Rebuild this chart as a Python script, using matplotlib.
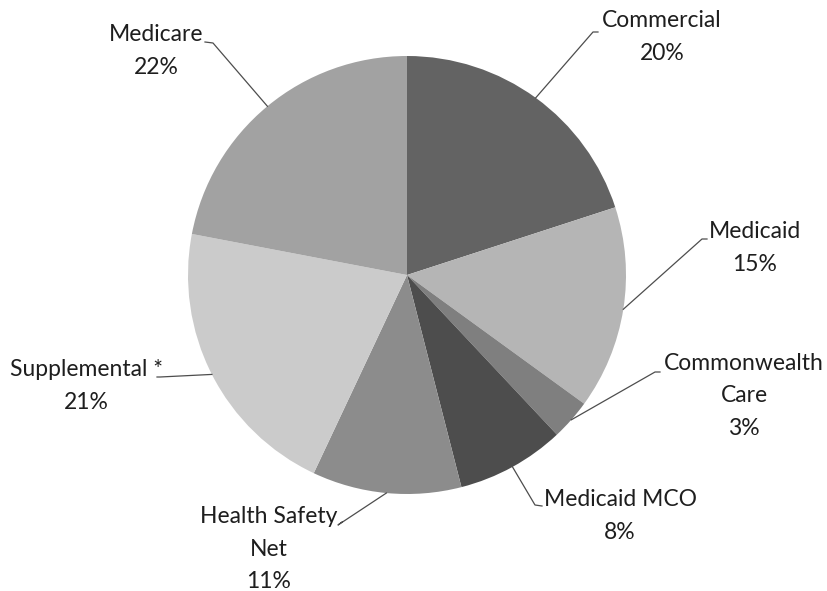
import numpy as np
import matplotlib
matplotlib.use("Agg")
import matplotlib.pyplot as plt

plt.rcParams["font.family"] = ["Lato", "DejaVu Sans"]

labels = ["Commercial", "Medicaid", "Commonwealth\nCare", "Medicaid MCO",
          "Health Safety\nNet", "Supplemental *", "Medicare"]
shares = [20, 15, 3, 8, 11, 21, 22]
colors = ["#636363", "#b5b5b5", "#7f7f7f", "#4d4d4d", "#8c8c8c", "#cbcbcb", "#a2a2a2"]

# label block centres and leader elbows/ends, pixels from top-left
text_pos = [(662, 37), (755, 248), (744, 396), (620, 516), (269, 549), (86, 386), (156, 51)]
elbows = [(593, 32), (702, 239), (655, 372), (535, 505), (338, 525), (160, 377), (213, 43)]
ends = [(598, 32), (707, 239), (660, 372), (542, 506), (342, 522), (157, 377), (205, 42)]

W, H = 827, 591
fig = plt.figure(figsize=(W / 100, H / 100), dpi=100)
ax = fig.add_axes([0, 0, 1, 1])

cx, cy, r = 407, H - 275, 219
wedges, _ = ax.pie(shares, colors=colors, startangle=90, counterclock=False,
                   radius=r, center=(cx, cy), frame=True,
                   wedgeprops=dict(linewidth=0))
ax.set_xlim(0, W)
ax.set_ylim(0, H)
ax.set_aspect("equal")
ax.axis("off")

for w, lab, v, tp, el, en in zip(wedges, labels, shares, text_pos, elbows, ends):
    mid = np.deg2rad((w.theta1 + w.theta2) / 2)
    x0, y0 = cx + r * np.cos(mid), cy + r * np.sin(mid)
    ax.plot([x0, el[0], en[0]], [y0, H - el[1], H - en[1]], color="#4d4d4d", lw=0.9)
    ax.text(tp[0], H - tp[1], f"{lab}\n{v}%", ha="center", va="center",
            fontsize=16.5, color="#1e1e1e", linespacing=1.7)

fig.savefig("out.png", dpi=100)
